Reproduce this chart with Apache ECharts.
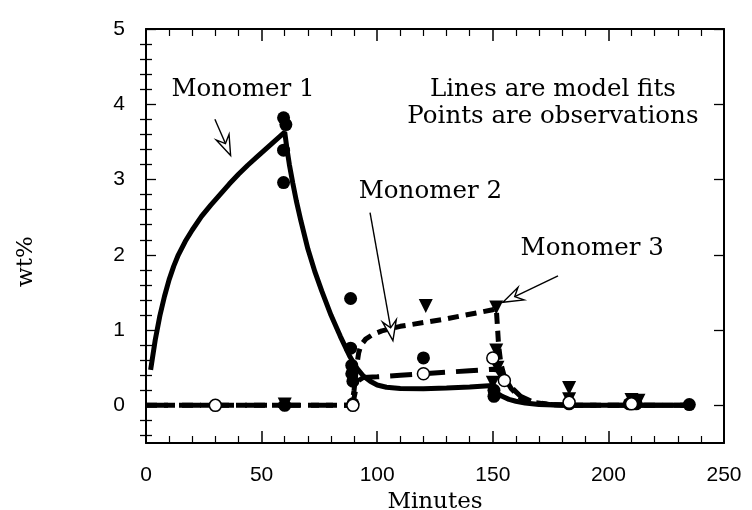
<!DOCTYPE html>
<html><head><meta charset="utf-8">
<script src="https://cdn.jsdelivr.net/npm/echarts@6/dist/echarts.min.js"></script>
<style>html,body{margin:0;padding:0;background:#fff}#c{width:752px;height:510px}</style>
</head><body><div id="c"></div>
<script>
// ---- tick values ----
const yLabelValues = [0, 1, 2, 3, 4, 5];
const yMinorValues = [-0.4, -0.2, 0.2, 0.4, 0.6, 0.8, 1.2, 1.4, 1.6, 1.8, 2.2, 2.4, 2.6, 2.8, 3.2, 3.4, 3.6, 3.8, 4.2, 4.4, 4.6, 4.8];

// ---- model fits (Minutes, wt%) ----
const fitT1 = [2, 4, 6, 8, 10, 12, 14, 17, 20, 24, 28, 32, 36, 40, 44, 48, 52, 56, 60, 61, 62, 63.5, 65, 67, 70, 73, 76, 80, 84, 88, 91, 94, 97, 100, 104, 110, 120, 130, 140, 150, 150.8, 152, 154, 157, 160, 164, 170, 180, 190, 236];
const fitV1 = [0.47, 0.87, 1.19, 1.45, 1.67, 1.85, 2.0, 2.18, 2.33, 2.51, 2.66, 2.8, 2.94, 3.07, 3.19, 3.3, 3.41, 3.52, 3.63, 3.4, 3.2, 2.95, 2.72, 2.45, 2.08, 1.78, 1.52, 1.2, 0.92, 0.66, 0.5, 0.39, 0.32, 0.27, 0.24, 0.225, 0.22, 0.23, 0.245, 0.265, 0.2, 0.16, 0.12, 0.08, 0.055, 0.03, 0.012, 0.003, 0, 0];

const fitT2 = [0, 89, 90, 91, 92, 93, 95, 98, 102, 110, 120, 130, 140, 150, 151.5, 152, 152.5, 153.5, 155, 158, 162, 167, 175, 185, 236];
const fitV2 = [0, 0, 0.2, 0.5, 0.7, 0.8, 0.88, 0.94, 0.99, 1.05, 1.1, 1.15, 1.21, 1.27, 1.29, 1.05, 0.8, 0.55, 0.38, 0.22, 0.1, 0.04, 0.01, 0, 0];

const fitT3 = [0, 89, 90, 91, 92, 94, 100, 110, 120, 130, 140, 150, 152, 153, 155, 158, 162, 167, 175, 185, 236];
const fitV3 = [0, 0, 0.1, 0.25, 0.33, 0.37, 0.38, 0.4, 0.42, 0.44, 0.46, 0.48, 0.47, 0.42, 0.35, 0.24, 0.12, 0.05, 0.01, 0, 0];

// ---- observations ----
const obsT1 = [59.5, 60.5, 59.5, 59.5, 60, 88.5, 88.5, 89, 89, 89.5, 89.5, 120, 150.5, 150.5, 183, 209, 212, 235];
const obsV1 = [3.82, 3.73, 3.39, 2.96, 0, 1.42, 0.76, 0.53, 0.42, 0.32, 0.02, 0.63, 0.2, 0.12, 0.02, 0.02, 0.02, 0.01];
const obsT2 = [121, 151.5, 151.5, 152, 150, 183, 183, 210, 213, 60];
const obsV2 = [1.32, 1.3, 0.73, 0.5, 0.3, 0.23, 0.08, 0.07, 0.06, 0.01];
const obsT3 = [30, 89.5, 120, 150, 155, 183, 210];
const obsV3 = [0, 0, 0.42, 0.63, 0.33, 0.04, 0.02];

// ---- annotations (data coordinates) ----
const noteTexts = ['Monomer 1', 'Monomer 2', 'Monomer 3', 'Lines are model fits', 'Points are observations'];
const noteAt = [[42, 4.2], [123, 2.84], [193, 2.08], [176, 4.2], [176, 3.84]];
const arrowFrom = [[29.8, 3.8], [96.9, 2.56], [178.2, 1.72]];
const arrowTo = [[36.6, 3.32], [106.8, 0.86], [154.4, 1.37]];
const yTitleAt = [-52, 1.91];

const zip = (a, b) => a.map((v, i) => [v, b[i]]);
const serif = 'DejaVu Serif';
const sans = 'Liberation Sans';

const chart = echarts.init(document.getElementById('c'), null, { renderer: 'canvas' });

const axLine = { show: true, onZero: false, lineStyle: { color: '#000', width: 2 } };
function xAx(pos, labels) {
  return {
    type: 'value', min: 0, max: 250, interval: 50, position: pos,
    axisLine: axLine,
    axisTick: { show: true, inside: true, length: 12, lineStyle: { color: '#000', width: 1.5 } },
    minorTick: { show: true, splitNumber: 5, length: 7, lineStyle: { color: '#000', width: 1.2 } },
    splitLine: { show: false },
    axisLabel: { show: labels, margin: 22, fontSize: 21, color: '#000', fontFamily: sans },
    name: labels ? 'Minutes' : '', nameLocation: 'middle', nameGap: 40,
    nameTextStyle: { fontFamily: serif, fontSize: 23, color: '#000' }
  };
}
function yAx(pos, major, labels) {
  return {
    type: 'value', min: -0.5, max: 5, position: pos,
    axisLine: major ? axLine : { show: false },
    axisTick: { show: true, inside: true, length: major ? 10 : 6, customValues: major ? yLabelValues : yMinorValues, lineStyle: { color: '#000', width: 1.3 } },
    splitLine: { show: false },
    axisLabel: { show: labels, customValues: yLabelValues, margin: 21, fontSize: 21, color: '#000', fontFamily: sans }
  };
}

const option = {
  animation: false,
  backgroundColor: '#fff',
  grid: { left: 146, top: 29, width: 578, height: 414, containLabel: false, outerBoundsMode: 'none' },
  xAxis: [xAx('bottom', true), xAx('top', false)],
  yAxis: [yAx('left', true, true), yAx('left', false, false), yAx('right', true, false), yAx('right', false, false)],
  series: [
    { type: 'line', data: zip(fitT1, fitV1), showSymbol: false, lineStyle: { color: '#000', width: 5 }, z: 2 },
    { type: 'line', data: zip(fitT2, fitV2), showSymbol: false, lineStyle: { color: '#000', width: 5, type: [11, 7] }, z: 2 },
    { type: 'line', data: zip(fitT3, fitV3), showSymbol: false, lineStyle: { color: '#000', width: 5, type: [22, 11] }, z: 2 },
    { type: 'scatter', data: zip(obsT1, obsV1), symbol: 'circle', symbolSize: 13, itemStyle: { color: '#000', opacity: 1 }, z: 3 },
    { type: 'scatter', data: zip(obsT2, obsV2), symbol: 'triangle', symbolRotate: 180, symbolSize: 14, itemStyle: { color: '#000', opacity: 1 }, z: 3 },
    { type: 'scatter', data: zip(obsT3, obsV3), symbol: 'circle', symbolSize: 12, itemStyle: { color: '#fff', borderColor: '#000', borderWidth: 1.5, opacity: 1 }, z: 4 }
  ]
};
chart.setOption(option);

// annotations placed through the chart's own coordinate conversion
const g = [];
noteTexts.forEach((t, i) => {
  const p = chart.convertToPixel({ gridIndex: 0 }, noteAt[i]);
  g.push({ type: 'text', x: p[0], y: p[1], z: 10,
    style: { text: t, font: '24.5px "' + serif + '"', fill: '#000', align: 'center', verticalAlign: 'middle' } });
});
const yp = chart.convertToPixel({ gridIndex: 0 }, yTitleAt);
g.push({ type: 'text', x: yp[0], y: yp[1], rotation: Math.PI / 2, z: 10,
  style: { text: 'wt%', font: '23px "' + serif + '"', fill: '#000', align: 'center', verticalAlign: 'middle' } });
arrowFrom.forEach((a, i) => {
  const p0 = chart.convertToPixel({ gridIndex: 0 }, a);
  const p1 = chart.convertToPixel({ gridIndex: 0 }, arrowTo[i]);
  const dx = p1[0] - p0[0], dy = p1[1] - p0[1];
  const len = Math.hypot(dx, dy), ux = dx / len, uy = dy / len, nx = -uy, ny = ux;
  const L = 20, W = 7, N = 7;
  const notch = [p1[0] - ux * (L - N), p1[1] - uy * (L - N)];
  g.push({ type: 'line', z: 10, shape: { x1: p0[0], y1: p0[1], x2: notch[0], y2: notch[1] }, style: { stroke: '#000', lineWidth: 1.4 } });
  g.push({ type: 'polygon', z: 11, shape: { points: [
      [p1[0], p1[1]],
      [p1[0] - ux * L + nx * W, p1[1] - uy * L + ny * W],
      notch,
      [p1[0] - ux * L - nx * W, p1[1] - uy * L - ny * W]
    ] }, style: { fill: '#fff', stroke: '#000', lineWidth: 1.4 } });
});
chart.setOption({ graphic: g });
</script></body></html>
